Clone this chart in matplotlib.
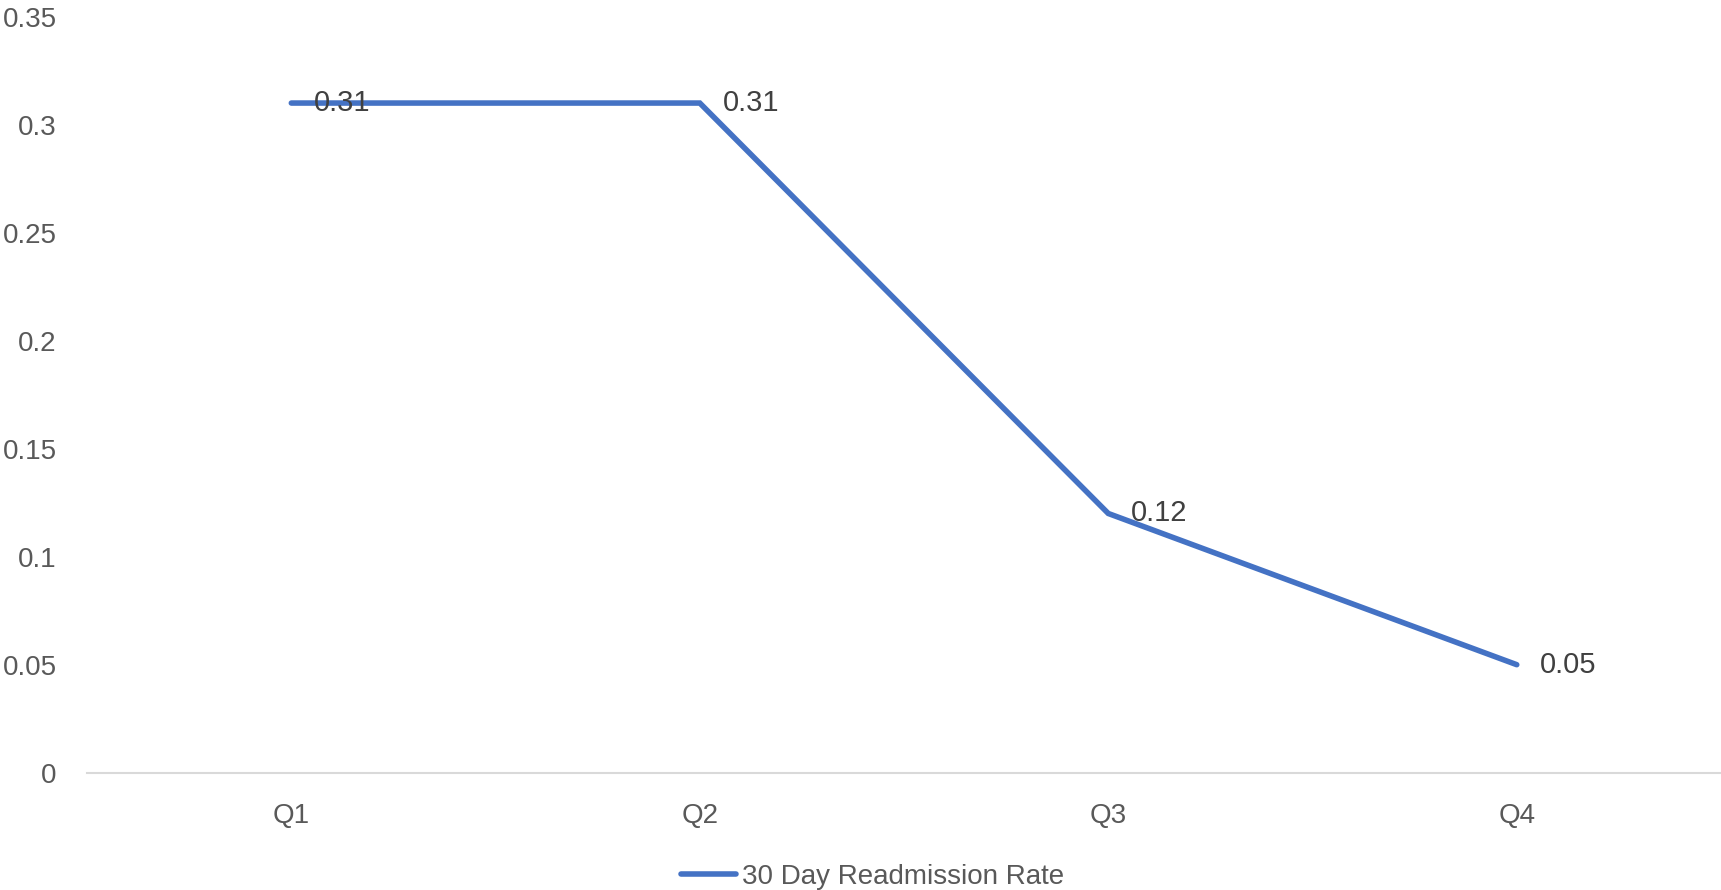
import matplotlib
matplotlib.use("Agg")
import matplotlib.pyplot as plt

plt.rcParams["font.family"] = ["Liberation Sans", "DejaVu Sans"]

quarters = ["Q1", "Q2", "Q3", "Q4"]
rates = [0.31, 0.31, 0.12, 0.05]
yticks = [0, 0.05, 0.1, 0.15, 0.2, 0.25, 0.3, 0.35]
ytick_labels = ["0", "0.05", "0.1", "0.15", "0.2", "0.25", "0.3", "0.35"]

fig = plt.figure(figsize=(17.21, 8.90), dpi=100)
ax = fig.add_axes([0.0506, 0.1318, 0.9494, 0.8495])

x = list(range(len(quarters)))
line, = ax.plot(x, rates, color="#4472C4", linewidth=4,
                solid_capstyle="round", solid_joinstyle="miter",
                label="30 Day Readmission Rate")

for xi, v in zip(x, rates):
    ax.annotate(f"{v:g}", (xi, v), xytext=(16.5, 0), textcoords="offset points",
                ha="left", va="center", fontsize=21, color="#404040")

ax.set_xlim(-0.5, len(quarters) - 0.5)
ax.set_ylim(0, 0.35)
ax.set_xticks(x)
ax.set_xticklabels(quarters)
ax.set_yticks(yticks)
ax.set_yticklabels(ytick_labels)
ax.tick_params(axis="both", length=0, labelsize=20, labelcolor="#595959")
ax.tick_params(axis="x", pad=22)
ax.tick_params(axis="y", pad=22)

for s in ["top", "right", "left"]:
    ax.spines[s].set_visible(False)
ax.spines["bottom"].set_color("#D9D9D9")
ax.spines["bottom"].set_linewidth(1.5)
ax.spines["bottom"].set_zorder(0)

fig.legend(handles=[line], loc="center", bbox_to_anchor=(0.507, 0.0146),
           frameon=False, fontsize=20, labelcolor="#595959",
           handlelength=2.0, handletextpad=0.2)

fig.savefig("out.png", dpi=100)
